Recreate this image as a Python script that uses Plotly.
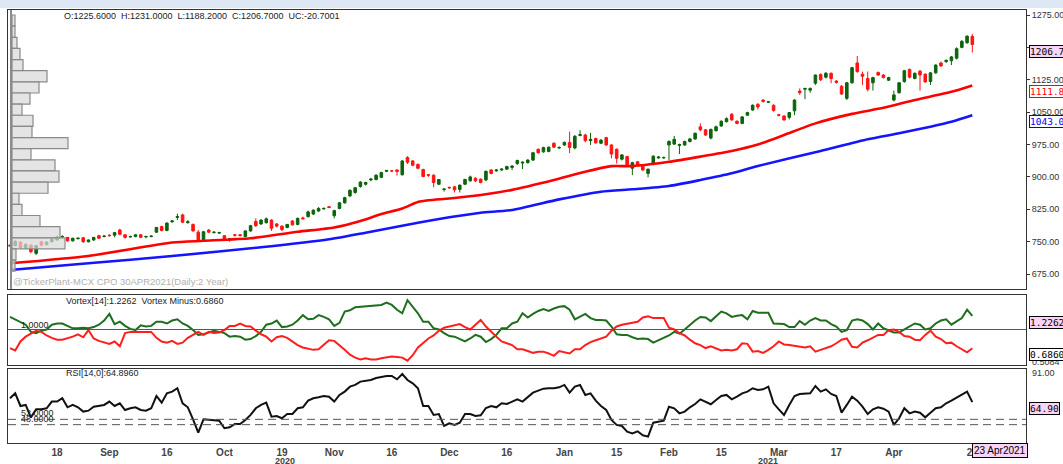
import plotly.graph_objects as go

# ---------------- DATA ----------------
bar_open = [742,741,749,735,742,723,750,743,750,754,761,760,752,757,759,750,754,764,762,765,
            765,777,766,761,762,766,761,762,772,785,776,796,806,812,794,790,772,755,777,771,
            770,764,755,766,766,762,775,797,791,794,800,791,786,783,798,790,805,808,814,821,
            826,831,810,827,840,856,864,878,883,893,894,899,913,914,916,905,945,937,929,917,
            905,904,883,871,876,877,871,883,891,897,895,893,916,914,916,918,922,931,932,933,
            939,964,958,959,978,967,974,980,967,996,997,984,989,978,991,974,964,941,947,920,
            935,924,908,930,944,944,974,976,973,974,982,988,1016,1009,990,1007,1018,1028,1045,1029,
            1024,1043,1055,1068,1078,1073,1066,1044,1041,1038,1053,1099,1103,1101,1117,1137,1131,1140,1122,1110,
            1082,1118,1164,1138,1128,1118,1142,1136,1124,1078,1095,1121,1149,1128,1145,1138,1121,1141,1164,1167,
            1169,1175,1200,1211,1225.6]
bar_high = [744,753,751,746,744,742,752,751,758,764,765,761,759,760,761,755,761,766,765,767,
            772,780,767,764,767,767,764,764,784,787,795,800,815,815,800,792,777,775,779,774,
            773,765,758,767,768,776,789,804,802,806,802,793,788,791,800,806,808,822,825,830,
            829,832,824,842,854,871,877,890,889,897,906,912,916,916,918,939,948,939,931,919,
            907,906,895,873,877,879,882,896,903,899,896,915,918,918,920,926,927,940,936,941,
            958,966,970,970,980,971,982,1005,997,1008,1000,1002,991,988,993,976,966,953,949,935,
            937,926,919,950,948,947,985,995,977,984,990,1003,1024,1011,1012,1019,1031,1038,1048,1031,
            1041,1051,1068,1071,1080,1076,1068,1046,1043,1050,1080,1105,1106,1107,1137,1140,1143,1142,1124,1113,
            1120,1155,1180,1144,1144,1132,1144,1138,1132,1100,1120,1148,1151,1142,1148,1140,1143,1161,1167,1172,
            1180,1200,1217,1228,1231.0]
bar_low = [739,739,734,733,723,719,739,741,748,752,759,750,750,755,747,748,752,756,760,762,
           760,765,757,759,760,758,758,760,770,774,774,794,800,793,792,773,750,752,770,769,
           768,754,750,762,763,760,773,784,789,792,775,783,775,781,787,788,802,806,812,819,
           824,828,804,825,838,853,861,875,880,890,892,897,911,911,903,903,930,925,918,899,
           900,876,881,866,872,864,864,881,889,888,885,890,906,912,914,916,916,928,918,931,
           937,954,956,957,967,965,972,955,964,994,980,974,977,976,972,943,931,938,925,904,
           925,914,899,927,942,942,939,974,953,972,980,986,1006,995,987,1005,1016,1026,1030,1022,
           1022,1041,1053,1056,1072,1071,1051,1040,1030,1033,1043,1090,1080,1095,1113,1122,1128,1117,1116,1090,
           1078,1116,1141,1113,1098,1100,1134,1128,1122,1075,1093,1118,1128,1126,1100,1118,1113,1139,1155,1164,
           1159,1172,1198,1208,1188.2]
bar_close = [740,751,736,744,727,741,742,749,756,761,762,752,758,758,750,754,760,758,763,764,
             771,767,760,762,766,760,762,763,783,776,793,798,808,795,796,775,754,773,772,772,
             771,756,757,765,764,775,787,787,800,803,781,786,778,790,789,804,803,819,823,827,
             827,829,822,840,852,869,875,888,887,895,904,910,915,914,913,937,934,927,920,901,
             904,887,894,872,875,870,881,894,900,891,887,913,908,916,918,924,925,938,934,939,
             956,956,968,969,969,968,980,968,994,998,984,987,979,985,974,953,943,951,928,933,
             928,916,918,948,946,945,982,987,975,982,988,1001,1009,997,1010,1016,1029,1035,1032,1024,
             1039,1049,1066,1062,1075,1074,1054,1043,1032,1049,1078,1095,1105,1105,1136,1125,1140,1128,1119,1092,
             1118,1153,1144,1133,1103,1130,1136,1130,1130,1090,1118,1146,1131,1140,1136,1120,1141,1159,1157,1170,
             1178,1197,1214,1226,1206.7]

# moving averages (sampled at bar numbers)
ma_red_bar = [0,15,31,37,46,55,62,67,71,75,78,80,84,90,96,104,110,115,119,126,132,138,143,148,154,161,167,173,180,184]
ma_red = [700,717,748,752,758,773,783,798,814,827,842,846,850,858,870,893,912,925,925,935,947,960,975,997,1024,1046,1060,1078,1097,1111.87]
ma_blue_bar = [0,15,31,48,61,68,78,84,90,96,105,113,119,126,132,138,143,155,164,170,176,180,184]
ma_blue = [684.4,699.9,716.8,737,755.5,770.8,794,806.4,817.1,823.4,848,865.8,871.3,879,892.9,908.4,925.3,960,987.1,1001,1016.4,1027.9,1043.06]

vortex_plus = [1.21,1.17,1.13,1.08,0.96,0.94,0.98,1.00,1.08,1.10,1.10,1.06,1.02,1.02,1.03,1.02,1.04,1.08,1.15,1.26,
               1.09,1.13,1.06,1.01,0.99,1.07,1.05,1.06,1.13,1.13,1.10,1.15,1.17,1.10,1.06,0.99,0.91,0.92,0.95,0.98,
               0.96,0.94,0.88,0.89,0.88,0.83,0.84,0.89,0.96,1.08,1.10,1.15,1.04,1.05,1.08,1.15,1.24,1.17,1.18,1.24,
               1.21,1.17,1.06,1.11,1.30,1.32,1.37,1.38,
               1.38,1.40,1.40,1.41,1.45,1.41,1.33,1.27,1.49,1.38,1.27,1.13,1.13,1.02,1.00,0.94,0.89,0.88,0.84,0.80,
               0.85,0.91,0.88,0.79,0.84,0.91,1.02,1.02,1.10,1.13,1.27,1.20,1.26,1.31,1.34,1.31,1.35,1.38,1.39,1.33,
               1.17,1.21,1.26,1.19,1.16,1.16,1.15,1.05,0.92,0.91,0.91,0.87,0.84,0.85,0.84,0.78,0.82,0.85,0.90,0.96,
               0.93,1.00,1.08,1.15,1.21,1.20,1.14,1.22,1.30,1.27,
               1.21,1.23,1.24,1.17,1.31,1.28,1.28,1.28,1.10,1.10,1.09,1.04,1.04,1.14,1.08,1.15,1.19,1.15,1.15,1.09,
               1.05,0.96,0.99,1.15,1.17,1.15,1.09,1.00,1.10,1.02,0.98,0.95,0.95,1.00,1.05,1.10,1.08,1.00,1.02,1.10,
               1.15,1.17,1.08,1.13,1.19,1.33,1.2262]
vortex_minus = [0.69,0.65,0.80,0.88,0.93,0.98,0.96,0.90,0.86,0.83,0.83,0.85,0.88,0.92,0.87,0.99,0.85,0.81,0.79,0.76,
                0.80,0.72,0.94,0.96,0.96,0.96,0.96,0.96,0.86,0.80,0.78,0.81,0.76,0.78,0.86,0.91,0.96,0.91,0.96,0.94,
                0.95,0.99,1.06,1.06,1.10,1.06,1.05,0.98,0.92,0.88,0.80,0.87,0.89,0.86,0.80,0.74,0.70,0.68,0.66,0.67,
                0.75,0.82,0.81,0.74,0.66,0.58,0.53,0.50,
                0.52,0.50,0.50,0.52,0.53,0.55,0.54,0.53,0.48,0.57,0.70,0.78,0.85,0.90,0.98,1.03,1.05,1.07,1.09,1.04,
                1.00,1.08,1.16,1.05,0.96,0.88,0.80,0.77,0.74,0.67,0.67,0.64,0.61,0.63,0.63,0.60,0.56,0.64,0.62,0.60,
                0.67,0.67,0.74,0.79,0.82,0.85,0.88,0.98,1.05,1.08,1.10,1.11,1.13,1.20,1.22,1.19,1.19,1.19,1.03,1.00,
                0.94,0.90,0.83,0.77,0.74,0.69,0.72,0.69,0.65,0.66,
                0.65,0.67,0.77,0.76,0.63,0.64,0.61,0.66,0.72,0.80,0.75,0.74,0.73,0.71,0.70,0.72,0.63,0.66,0.69,0.72,
                0.77,0.83,0.85,0.71,0.70,0.78,0.82,0.87,0.91,0.91,0.99,1.00,0.96,0.89,0.88,0.83,0.82,0.91,0.98,0.88,
                0.84,0.77,0.78,0.72,0.67,0.62,0.686]
rsi = [67.8,71.5,62.0,62.8,53.5,59.5,59.5,60.3,65.3,65.3,67.8,61.0,62.8,61.0,57.8,58.5,61.5,62.0,62.8,65.3,
       62.0,64.0,59.0,60.3,61.0,59.0,58.5,60.3,69.5,64.5,71.5,72.8,75.3,64.0,61.0,52.0,42.0,52.0,51.5,51.5,
       51.0,45.3,46.0,48.5,48.5,51.5,55.3,60.3,62.8,64.5,54.0,54.5,52.8,56.0,56.0,60.3,61.0,66.0,67.8,68.5,
       69.5,69.0,65.3,70.3,72.8,76.5,77.8,80.3,
       81.0,81.5,83.0,84.0,84.5,84.5,82.0,86.0,81.5,79.0,75.3,62.0,62.0,55.3,56.0,47.0,49.0,47.8,49.5,56.0,
       56.0,54.5,55.0,60.5,62.0,61.0,64.0,63.5,65.3,67.0,65.3,68.5,72.0,73.5,75.0,75.3,75.3,76.0,77.8,72.0,
       76.5,77.8,70.3,71.5,66.0,62.0,59.0,51.5,47.8,47.0,42.8,41.5,43.0,40.0,39.0,49.5,50.3,51.0,61.5,60.3,
       56.5,57.8,61.0,63.5,67.0,65.3,63.3,66.5,69.5,70.3,
       67.0,69.0,71.5,72.8,75.3,74.0,74.5,76.5,64.0,59.5,55.3,62.8,69.5,71.0,71.0,71.5,77.0,72.8,74.5,71.0,
       69.5,57.0,62.8,69.0,66.0,61.5,56.0,59.5,61.0,60.0,57.8,47.8,52.8,60.3,56.5,57.8,57.0,53.5,57.0,60.3,
       61.0,64.0,66.0,68.5,70.5,72.8,64.896]

# volume-by-price profile
vp_price = [1262.1,1236.3,1210.5,1184.7,1158.9,1133.1,1107.3,1081.5,1055.7,1029.9,1004.1,978.3,
            952.5,926.7,900.9,875.1,849.3,823.5,797.7,771.9,746.1,720.3,694.5]
vp_volume = [3,3,5,8,11,35,27,18,10,21,20,56,19,43,47,36,7,10,28,48,53,4,3]

price_ticks = [675,750,825,900,975,1050,1125,1200,1275]
date_tick_bar = [9,19,30,41,52,62,73,84,95,106,116,126,136,147,158,169,184]
date_tick_text = ["18","Sep","16","Oct","19","Nov","16","Dec","16","Jan","15","Feb","15","Mar","17","Apr","23"]
year_labels = [("2020", 52.6), ("2021", 145)]

last_close, last_ma_red, last_ma_blue = 1206.70, 1111.87, 1043.06
last_vip, last_vim, last_rsi = 1.2262, 0.6860, 64.8960

# ---------------- LAYOUT HELPERS ----------------
W, H = 1063, 464
ML, MR, MT, MB = 8, 37, 10, 20
PW, PH = W - ML - MR, H - MT - MB
BAR_PX = 5.23
x_lo = -(10 - ML) / BAR_PX
x_hi = x_lo + PW / BAR_PX

def fx(px):
    return (px - ML) / PW

def fy(py):
    return (H - MB - py) / PH

bars = list(range(len(bar_close)))

fig = go.Figure()
fig.add_trace(go.Candlestick(
    x=bars, open=bar_open, high=bar_high, low=bar_low, close=bar_close,
    increasing=dict(line=dict(color="#0c640c", width=1), fillcolor="#0c640c"),
    decreasing=dict(line=dict(color="#ff1414", width=1), fillcolor="#ff1414"),
    whiskerwidth=0, xaxis="x", yaxis="y", hoverinfo="skip"))
fig.add_trace(go.Scatter(x=ma_red_bar, y=ma_red, mode="lines",
                         line=dict(color="#ff0000", width=2.6, shape="spline", smoothing=0.6),
                         xaxis="x", yaxis="y"))
fig.add_trace(go.Scatter(x=ma_blue_bar, y=ma_blue, mode="lines",
                         line=dict(color="#1414ff", width=2.6, shape="spline", smoothing=0.6),
                         xaxis="x", yaxis="y"))
fig.add_trace(go.Bar(x=vp_volume, y=vp_price, orientation="h", width=25.8, base=0,
                     marker=dict(color="rgba(218,218,218,0.72)",
                                 line=dict(color="#8a8a8a", width=1.2)),
                     xaxis="x4", yaxis="y"))
fig.add_trace(go.Scatter(x=bars, y=vortex_plus, mode="lines",
                         line=dict(color="#1e6e1e", width=2), xaxis="x2", yaxis="y2"))
fig.add_trace(go.Scatter(x=bars, y=vortex_minus, mode="lines",
                         line=dict(color="#ff1e1e", width=2), xaxis="x2", yaxis="y2"))
fig.add_trace(go.Scatter(x=bars, y=rsi, mode="lines",
                         line=dict(color="#111111", width=2), xaxis="x3", yaxis="y3"))

axis_common = dict(showgrid=False, zeroline=False, showline=True, mirror=True,
                   linecolor="#333333", linewidth=1, automargin=False)
tickfont = dict(family="Liberation Sans, Arial, sans-serif", size=9, color="#333333")

fig.update_layout(
    width=W, height=H, margin=dict(l=ML, r=MR, t=MT, b=MB, autoexpand=False),
    paper_bgcolor="white", plot_bgcolor="white", showlegend=False,
    xaxis=dict(domain=[0, 1], range=[x_lo, x_hi], anchor="y", showticklabels=False,
               rangeslider=dict(visible=False), **axis_common),
    yaxis=dict(domain=[fy(289), 1], range=[640.4, 1286.6], side="right", anchor="x",
               tickvals=price_ticks, ticktext=[f"{v:.2f}" for v in price_ticks],
               ticks="outside", ticklen=3, tickcolor="#333", tickfont=tickfont, **axis_common),
    xaxis4=dict(overlaying="x", anchor="y", range=[-4, PW - 4], visible=False, automargin=False),
    xaxis2=dict(domain=[0, 1], range=[x_lo, x_hi], anchor="y2", showticklabels=False, **axis_common),
    yaxis2=dict(domain=[fy(365), fy(295)], range=[0.407, 1.576], side="right", anchor="x2",
                showticklabels=False, ticks="", **axis_common),
    xaxis3=dict(domain=[0, 1], range=[x_lo, x_hi], anchor="y3",
                tickvals=date_tick_bar, ticktext=date_tick_text, ticks="",
                tickfont=dict(family="Liberation Sans, Arial, sans-serif", size=10, color="#444444",
                              weight="bold"), **axis_common),
    yaxis3=dict(domain=[fy(443), fy(369)], range=[34.25, 89.75], side="right", anchor="x3",
                showticklabels=False, ticks="", **axis_common),
)

shapes = [
    dict(type="rect", xref="paper", yref="paper", x0=fx(0), x1=fx(W), y0=fy(8), y1=fy(0),
         fillcolor="#dde8f4", line=dict(width=0), layer="below"),
    dict(type="line", xref="paper", yref="paper", x0=fx(11), x1=fx(11), y0=fy(289), y1=fy(10),
         line=dict(color="#8c8c8c", width=2)),
    dict(type="line", xref="paper", yref="y2", x0=0, x1=1, y0=1.0, y1=1.0,
         line=dict(color="#555555", width=1)),
    dict(type="line", xref="paper", yref="y3", x0=0, x1=1, y0=52, y1=52,
         line=dict(color="#555555", width=1, dash="8px,5px")),
    dict(type="line", xref="paper", yref="y3", x0=0, x1=1, y0=48, y1=48,
         line=dict(color="#555555", width=1, dash="8px,5px")),
]
fig.update_layout(shapes=shapes)

sans = "Liberation Sans, Arial, sans-serif"
mono = "DejaVu Sans Mono, monospace"
NB = "\u00a0\u00a0"
ann = []

def text_at(txt, px, py, size=9, color="#222222", family=sans, anchor="left"):
    ann.append(dict(text=txt, xref="paper", yref="paper", x=fx(px), y=fy(py),
                    xanchor=anchor, yanchor="middle", showarrow=False,
                    font=dict(family=family, size=size, color=color)))

text_at(NB.join(["O:1225.6000", "H:1231.0000", "L:1188.2000", "C:1206.7000", "UC:-20.7001"]), 62, 16)
text_at("@TickerPlant-MCX CPO 30APR2021(Daily:2 Year)", 11, 281, size=9.5, color="#b0b0b0")
text_at(f"Vortex[14]:{last_vip:.4f}{NB}Vortex Minus:{last_vim:.4f}", 64, 301)
text_at("1.0000", 19, 325)
text_at(f"RSI[14,0]:{last_rsi:.4f}", 64, 373)
text_at("52.0000", 19, 413)
text_at("48.0000", 19, 419)
text_at("0.5084", 1030, 362, color="#333333")
text_at("91.00", 1030, 373, color="#333333")
for lbl, b in year_labels:
    ann.append(dict(text=f"<b>{lbl}</b>", xref="x3", yref="paper", x=b, y=fy(461),
                    xanchor="center", yanchor="middle", showarrow=False,
                    font=dict(family=sans, size=9, color="#444444")))

def value_box(txt, yref, yval, fg, bg, border):
    ann.append(dict(text=txt, xref="paper", yref=yref, x=fx(1029), y=yval,
                    xanchor="left", yanchor="top", showarrow=False,
                    font=dict(family=mono, size=9.5, color=fg),
                    bgcolor=bg, bordercolor=border, borderwidth=1, borderpad=0))

value_box(f"{last_close:.2f}", "y", last_close, "#000000", "#f8d4f6", "#000000")
value_box(f"{last_ma_red:.2f}", "y", last_ma_red, "#ff0000", "#ffffff", "#ff0000")
value_box(f"{last_ma_blue:.2f}", "y", last_ma_blue, "#0000ff", "#ffffff", "#0000ff")
value_box(f"{last_vip:.4f}", "y2", last_vip, "#000000", "#f8d4f6", "#000000")
value_box(f"{last_vim:.4f}", "y2", last_vim, "#000000", "#ffffff", "#000000")
value_box(f"{last_rsi:.2f}", "y3", last_rsi, "#000000", "#f8d4f6", "#000000")
ann.append(dict(text="23 Apr2021", xref="x3", yref="paper", x=len(bar_close) - 1, y=fy(443),
                xanchor="left", yanchor="top", showarrow=False,
                font=dict(family=sans, size=10, color="#000000"),
                bgcolor="#f8d4f6", bordercolor="#000000", borderwidth=1, borderpad=1))
fig.update_layout(annotations=ann)

fig.write_html("out.html", config={"displayModeBar": False},
               post_script="document.body.style.margin='0';document.body.style.overflow='hidden';")
